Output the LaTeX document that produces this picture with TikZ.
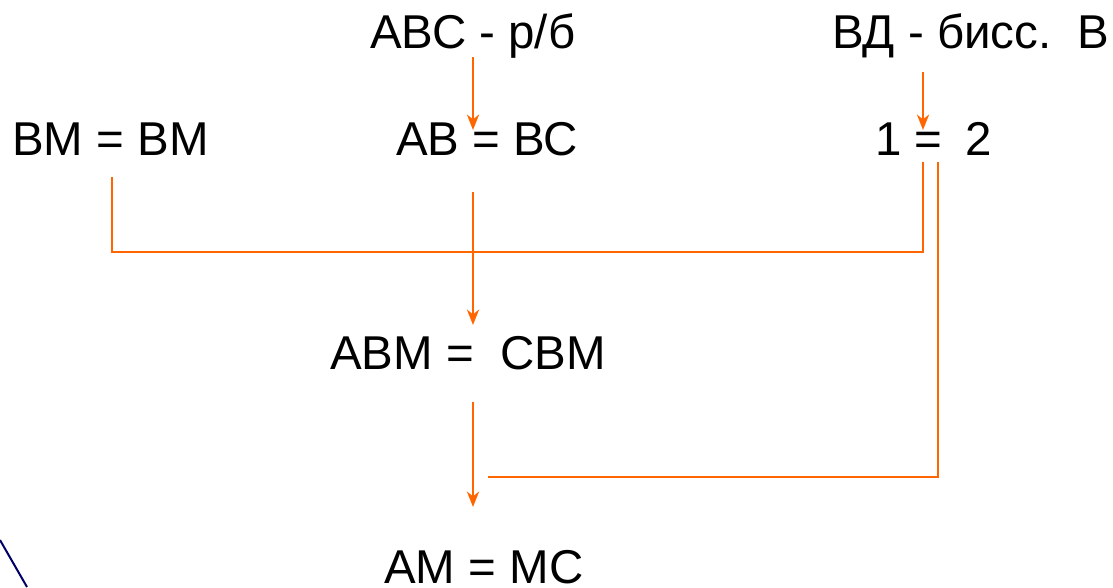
\documentclass[tikz,border=0pt]{standalone}
\usepackage{fontspec}
\setmainfont{Liberation Sans}
\usetikzlibrary{arrows.meta}
\definecolor{linkorange}{HTML}{FF6600}
\definecolor{edgenavy}{HTML}{000066}
\tikzset{
	stmt/.style={anchor=base west, inner sep=0pt, font=\fontsize{35.6}{43}\selectfont},
	link/.style={color=linkorange, line width=2pt},
	linkarrow/.style={link, -{Stealth[length=11.5pt, width=9pt, inset=3.5pt]}}
}
\begin{document}
\begin{tikzpicture}[x=0.75pt, y=-0.75pt]
		\useasboundingbox (0, 0) rectangle (1113, 587);

		\node[stmt] (abc) at (370, 48) {АВС - р/б};
		\node[stmt] (bd) at (832, 48) {ВД - бисс.\ \ В};
		\node[stmt] (bm) at (12, 155) {ВМ = ВМ};
		\node[stmt] (ab) at (396, 155) {АВ = ВС};
		\node[stmt] (ang) at (875, 155) {1 =\ \kern7pt 2};
		\node[stmt] (abm) at (330, 369.5) {АВМ =\ \ СВМ};
		\node[stmt] (am) at (384, 583) {АМ = МС};

		\coordinate (abcout) at (473, 57);
		\coordinate (abin) at (473, 130);
		\coordinate (bdout) at (923, 72);
		\coordinate (angin) at (923, 130);
		\coordinate (bmout) at (112, 177);
		\coordinate (angleft) at (923, 162);
		\coordinate (angright) at (938, 162);
		\coordinate (about) at (473, 192);
		\coordinate (abmin) at (473, 325);
		\coordinate (abmout) at (473, 402);
		\coordinate (amin) at (473, 507);
		\coordinate (join) at (488, 477);

		\draw[linkarrow] (abcout) -- (abin);
		\draw[linkarrow] (bdout) -- (angin);
		\draw[link] (bmout) |- (angleft |- 0, 252) -- (angleft);
		\draw[linkarrow] (about) -- (abmin);
		\draw[linkarrow] (abmout) -- (amin);
		\draw[link] (join) -| (angright);

		\draw[color=edgenavy, line width=1.5pt] (0, 540) -- (27, 587);
	\end{tikzpicture}
\end{document}
